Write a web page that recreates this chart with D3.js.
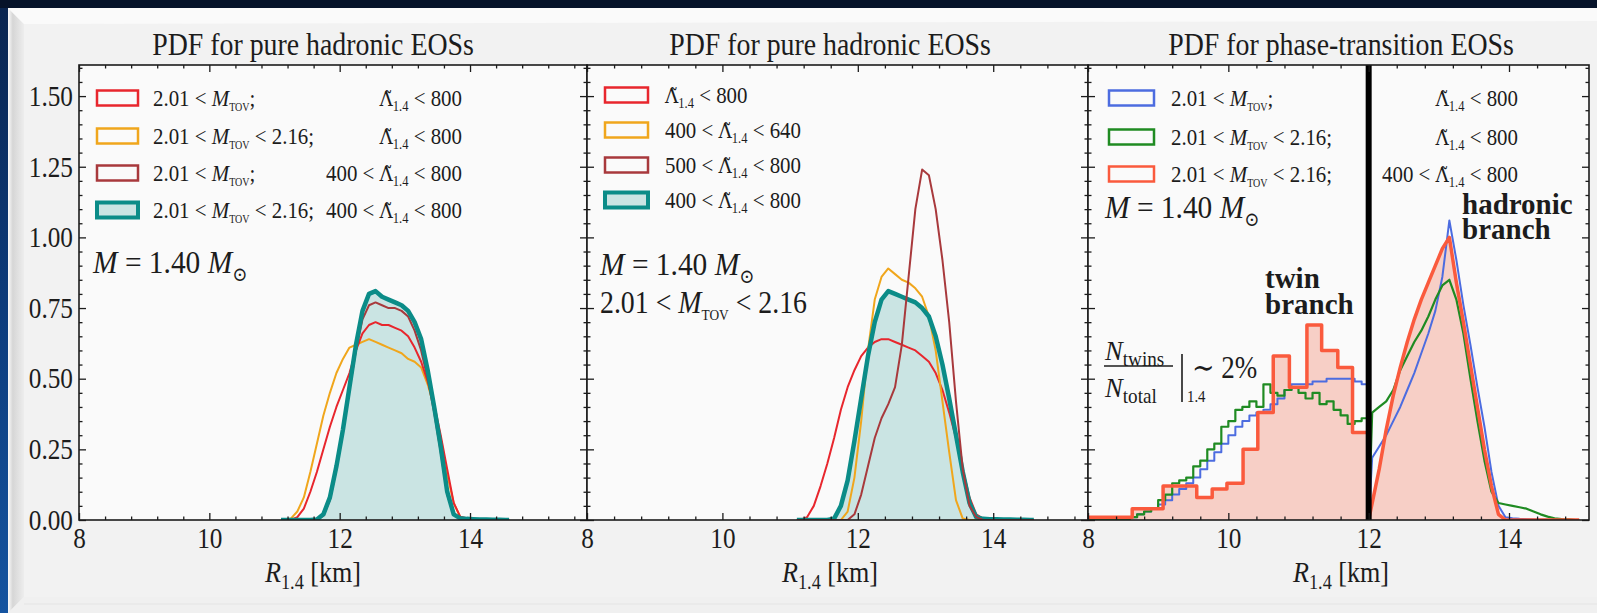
<!DOCTYPE html>
<html>
<head>
<meta charset="utf-8">
<script src="https://cdn.jsdelivr.net/npm/d3@7"></script>
<style>
  html, body { margin: 0; padding: 0; background: #07152d; overflow: hidden; }
  svg { display: block; }
</style>
</head>
<body>
<svg id="chart" width="1597" height="613"></svg>
<script>
// ---------------------------------------------------------------
// Probability densities of R_1.4 [km] (histograms, left bin edges)
// ---------------------------------------------------------------

// Panels 1 and 2: common fine binning (0.1 km)
const radiusBins = [11.1, 11.2, 11.3, 11.4, 11.5, 11.6, 11.7, 11.8, 11.9, 12.0,
                    12.1, 12.2, 12.3, 12.4, 12.5, 12.6, 12.7, 12.8, 12.9, 13.0,
                    13.1, 13.2, 13.3, 13.4, 13.5, 13.6, 13.7, 13.8, 13.9, 14.0,
                    14.1, 14.2, 14.3, 14.4, 14.5];

// Panel 1 – pure hadronic EOSs, different M_TOV / Lambda cuts
const p1Red     = [0, 0, 0.01, 0.04, 0.10, 0.17, 0.25, 0.33, 0.40, 0.46,
                   0.52, 0.60, 0.66, 0.69, 0.70, 0.69, 0.69, 0.68, 0.67, 0.65,
                   0.61, 0.56, 0.49, 0.41, 0.30, 0.18, 0.06, 0.012, 0.006, 0.004,
                   0.003, 0.002, 0.002, 0.001, 0.001];
const p1Orange  = [0, 0.005, 0.03, 0.08, 0.17, 0.27, 0.37, 0.45, 0.52, 0.57,
                   0.61, 0.62, 0.63, 0.64, 0.63, 0.62, 0.61, 0.60, 0.59, 0.57,
                   0.56, 0.54, 0.48, 0.40, 0.29, 0.16, 0.06, 0.01, 0.004, 0.002,
                   0, 0, 0, 0, 0];
const p1DarkRed = [0, 0, 0, 0, 0, 0.001, 0.015, 0.07, 0.18, 0.31,
                   0.46, 0.60, 0.71, 0.76, 0.77, 0.76, 0.75, 0.75, 0.74, 0.72,
                   0.67, 0.60, 0.50, 0.38, 0.24, 0.09, 0.02, 0.006, 0.004, 0.003,
                   0.002, 0.002, 0.001, 0.001, 0.001];
const p1Teal    = [0, 0, 0, 0, 0, 0.002, 0.02, 0.08, 0.19, 0.32,
                   0.47, 0.62, 0.74, 0.80, 0.81, 0.79, 0.78, 0.77, 0.76, 0.74,
                   0.70, 0.64, 0.53, 0.40, 0.26, 0.10, 0.02, 0.006, 0.004, 0.003,
                   0.002, 0.002, 0.001, 0.001, 0];

// Panel 2 – pure hadronic EOSs with 2.01 < M_TOV < 2.16, different Lambda windows
const p2Red     = [0, 0.01, 0.05, 0.12, 0.20, 0.29, 0.39, 0.47, 0.53, 0.58,
                   0.61, 0.63, 0.64, 0.64, 0.63, 0.62, 0.61, 0.60, 0.58, 0.56,
                   0.52, 0.46, 0.38, 0.29, 0.18, 0.08, 0.02, 0.005, 0.003, 0.002,
                   0.001, 0.001, 0, 0, 0];
const p2Orange  = [0, 0, 0, 0, 0, 0, 0, 0.03, 0.15, 0.35,
                   0.60, 0.78, 0.86, 0.89, 0.87, 0.85, 0.84, 0.82, 0.79, 0.72,
                   0.60, 0.42, 0.24, 0.07, 0.005, 0, 0, 0, 0, 0,
                   0, 0, 0, 0, 0];
const p2DarkRed = [0, 0, 0, 0, 0, 0, 0, 0, 0.02, 0.09,
                   0.19, 0.29, 0.36, 0.41, 0.47, 0.62, 0.86, 1.10, 1.24, 1.22,
                   1.10, 0.92, 0.70, 0.42, 0.18, 0.05, 0.01, 0, 0, 0,
                   0, 0, 0, 0, 0];
const p2Teal    = [0, 0, 0, 0, 0, 0.005, 0.05, 0.14, 0.28, 0.43,
                   0.58, 0.70, 0.78, 0.81, 0.80, 0.79, 0.78, 0.77, 0.75, 0.72,
                   0.65, 0.55, 0.43, 0.30, 0.17, 0.06, 0.01, 0.004, 0.003, 0.003,
                   0.002, 0.002, 0.001, 0.001, 0];

// Panel 3 – phase-transition EOSs: twin branch (R < 12 km) and hadronic branch (R > 12 km)
const transitionRadius = 12;
const twinBins = [8.0, 8.1, 8.2, 8.3, 8.4, 8.5, 8.6, 8.7, 8.8, 8.9,
                  9.0, 9.1, 9.2, 9.3, 9.4, 9.5, 9.6, 9.7, 9.8, 9.9,
                  10.0, 10.1, 10.2, 10.3, 10.4, 10.5, 10.6, 10.7, 10.8, 10.9,
                  11.0, 11.1, 11.2, 11.3, 11.4, 11.5, 11.6, 11.7, 11.8, 11.9];
const hadronicBins = [12.0, 12.1, 12.2, 12.3, 12.4, 12.5, 12.6, 12.7, 12.8, 12.9,
                      13.0, 13.1, 13.2, 13.3, 13.4, 13.5, 13.6, 13.7, 13.8, 13.9,
                      14.0, 14.1, 14.2, 14.3, 14.4, 14.5, 14.6, 14.7, 14.8, 14.9];

const p3BlueTwin  = [0, 0, 0, 0, 0.002, 0.005, 0.01, 0.02, 0.03, 0.04,
                     0.055, 0.07, 0.09, 0.11, 0.13, 0.15, 0.18, 0.21, 0.24, 0.27,
                     0.30, 0.33, 0.35, 0.37, 0.38, 0.39, 0.41, 0.43, 0.46, 0.48,
                     0.48, 0.48, 0.49, 0.49, 0.50, 0.50, 0.50, 0.50, 0.49, 0.48];
const p3BlueHad   = [0.22, 0.26, 0.30, 0.35, 0.40, 0.46, 0.52, 0.59, 0.66, 0.74,
                     0.86, 1.06, 0.92, 0.76, 0.62, 0.47, 0.33, 0.17, 0.05, 0.01,
                     0.006, 0.004, 0.003, 0.002, 0.001, 0.001, 0, 0, 0, 0];
const p3GreenTwin = [0, 0, 0, 0, 0, 0.004, 0.01, 0.02, 0.03, 0.04,
                     0.07, 0.09, 0.13, 0.14, 0.15, 0.19, 0.21, 0.25, 0.27, 0.33,
                     0.35, 0.39, 0.40, 0.42, 0.40, 0.48, 0.45, 0.44, 0.46, 0.47,
                     0.45, 0.43, 0.45, 0.41, 0.42, 0.39, 0.37, 0.34, 0.35, 0.36];
const p3GreenHad  = [0.38, 0.40, 0.42, 0.46, 0.53, 0.58, 0.63, 0.67, 0.72, 0.78,
                     0.83, 0.85, 0.78, 0.66, 0.50, 0.35, 0.21, 0.10, 0.06, 0.055,
                     0.05, 0.045, 0.04, 0.03, 0.02, 0.012, 0.006, 0.003, 0.002, 0];
const p3SalmonTwinEdges = [8.0, 8.63, 9.07, 9.55, 9.77, 9.98, 10.21, 10.42, 10.64,
                           10.87, 11.12, 11.33, 11.56, 11.77, 12.0];
const p3SalmonTwin = [0.01, 0.04, 0.12, 0.08, 0.11, 0.13, 0.25, 0.38, 0.58,
                      0.47, 0.69, 0.60, 0.54, 0.31];
const p3SalmonHad = [0.06, 0.18, 0.32, 0.44, 0.54, 0.63, 0.71, 0.78, 0.84, 0.90,
                     0.96, 1.00, 0.84, 0.70, 0.55, 0.40, 0.25, 0.12, 0.02, 0,
                     0, 0, 0, 0, 0, 0, 0, 0, 0, 0];

// Axis ticks
const xTickValues = [8, 10, 12, 14];
const yTickValues = [0, 0.25, 0.5, 0.75, 1.0, 1.25, 1.5];

// Legend entries: M_TOV upper bound and Lambda window for each curve
const p1Legend = [
  { mMax: null, lMin: null, lMax: 800 },
  { mMax: 2.16, lMin: null, lMax: 800 },
  { mMax: null, lMin: 400,  lMax: 800 },
  { mMax: 2.16, lMin: 400,  lMax: 800 }
];
const p2Legend = [
  { lMin: null, lMax: 800 },
  { lMin: 400,  lMax: 640 },
  { lMin: 500,  lMax: 800 },
  { lMin: 400,  lMax: 800 }
];
const p3Legend = [
  { mMax: null, lMin: null, lMax: 800 },
  { mMax: 2.16, lMin: null, lMax: 800 },
  { mMax: 2.16, lMin: 400,  lMax: 800 }
];

const titles = ["PDF for pure hadronic EOSs", "PDF for pure hadronic EOSs",
                "PDF for phase-transition EOSs"];

// ---------------------------------------------------------------
// Styling and layout
// ---------------------------------------------------------------
const W = 1597, H = 613;
const SERIF = "'Liberation Serif', 'DejaVu Serif', serif";
const INK = "#1c1c1c";
const C = {
  red: "#e8262d", orange: "#f0a61c", darkRed: "#a8393c", teal: "#0b8c88",
  tealFill: "#0b8c88", blue: "#4c6ce0", green: "#1f8b22", salmon: "#fa5a3d",
  salmonFill: "#f7cfc6"
};
const plotTop = 65, plotBottom = 520;
const layout = [
  { left: 79,   right: 587,  xMax: 15.795, cx: 313 },
  { left: 587,  right: 1088, xMax: 15.40,  cx: 830 },
  { left: 1088, right: 1589, xMax: 15.14,  cx: 1341 }
];

const y = d3.scaleLinear().domain([0, 1.61]).range([plotBottom, plotTop]);

const svg = d3.select("#chart");
const defs = svg.append("defs");

// ---------- slide background and card ----------
svg.append("rect").attr("width", W).attr("height", H).attr("fill", "#06132a");
const sideGrad = defs.append("linearGradient").attr("id", "side").attr("x1", 0).attr("y1", 0).attr("x2", 0).attr("y2", 1);
sideGrad.append("stop").attr("offset", 0).attr("stop-color", "#0a2550");
sideGrad.append("stop").attr("offset", 0.5).attr("stop-color", "#0d3c7c");
sideGrad.append("stop").attr("offset", 1).attr("stop-color", "#1554a0");
svg.append("rect").attr("x", 0).attr("y", 8).attr("width", 8).attr("height", H - 8).attr("fill", "url(#side)");

svg.append("rect").attr("x", 8).attr("y", 8).attr("width", W - 8).attr("height", H - 8).attr("fill", "#f2f2f2");
const bevL = defs.append("linearGradient").attr("id", "bevL").attr("x1", 0).attr("x2", 1).attr("y1", 0).attr("y2", 0);
bevL.append("stop").attr("offset", 0).attr("stop-color", "#fbfbfb");
bevL.append("stop").attr("offset", 0.3).attr("stop-color", "#d6d6d6");
bevL.append("stop").attr("offset", 1).attr("stop-color", "#ededed");
svg.append("polygon").attr("points", "8,8 24,24 24,597 8,613").attr("fill", "url(#bevL)");
svg.append("polygon").attr("points", `8,8 ${W},8 ${W},21 24,24`).attr("fill", "#fafafa");
svg.append("polygon").attr("points", `8,613 24,597 ${W},597 ${W},613`).attr("fill", "#f0f0f0");
svg.append("line").attr("x1", 24).attr("x2", W).attr("y1", 604).attr("y2", 604).attr("stroke", "#e4e4e4");

// ---------- rich text helper (serif, italics, subscripts) ----------
// parts: { t, it (italic), sc (relative size), dy (baseline offset in em), ff (font family) }
function richText(parent, x, yPos, lines, o = {}) {
  const size = o.size || 24;
  const sx = o.sx == null ? 0.87 : o.sx;
  const lead = o.lead || size;
  const t = parent.append("text")
    .attr("transform", `translate(${x},${yPos}) scale(${sx},1)`)
    .attr("font-family", SERIF)
    .attr("font-size", size)
    .attr("font-weight", o.weight || 400)
    .attr("text-anchor", o.anchor || "start")
    .attr("fill", o.fill || INK);
  const multi = Array.isArray(lines[0]);
  (multi ? lines : [lines]).forEach((parts, li) => {
    let shift = 0;
    parts.forEach((p, pi) => {
      const ts = t.append("tspan").text(p.t);
      let dy = (p.dy || 0) * size - shift;
      shift = (p.dy || 0) * size;
      if (multi && pi === 0) { ts.attr("x", 0); if (li > 0) dy += lead; }
      if (dy !== 0) ts.attr("dy", dy);
      if (p.it) ts.attr("font-style", "italic");
      if (p.sc) ts.attr("font-size", size * p.sc);
      if (p.ff) ts.attr("font-family", p.ff);
    });
  });
  return t;
}
// Lambda with combining tilde (font with mark positioning), then subscript 1.4
const lamParts = (lMin, lMax) => [
  ...(lMin != null ? [{ t: `${lMin} < ` }] : []),
  { t: "\u039B\u0303", ff: "'DejaVu Serif'", sc: 0.88 },
  { t: "1.4", sc: 0.6, dy: 0.2 }, { t: ` < ${lMax}` }
];
const mParts = (mMax, sep) => [
  { t: "2.01 < " }, { t: "M", it: true }, { t: "TOV", sc: 0.48, dy: 0.22 },
  { t: mMax != null ? ` < ${mMax}${sep}` : `${sep}` }
];
const massParts = () => [
  { t: "M", it: true }, { t: " = 1.40 " }, { t: "M", it: true }, { t: "\u2299", sc: 0.62, dy: 0.25 }
];

// ---------- histogram outlines ----------
function edgesOf(bins) {
  return [...bins, +(bins[bins.length - 1] + (bins[1] - bins[0])).toFixed(3)];
}
// outline as bin steps
function stepPoints(edges, values) {
  const pts = [[edges[0], 0]];
  values.forEach((v, i) => { pts.push([edges[i], v]); pts.push([edges[i + 1], v]); });
  pts.push([edges[values.length], 0]);
  return pts;
}
// outline through bin centres (fine-binned densities)
function centerPoints(edges, values) {
  const pts = [[edges[0], 0]];
  values.forEach((v, i) => pts.push([(edges[i] + edges[i + 1]) / 2, v]));
  pts.push([edges[values.length], 0]);
  return pts;
}

// ---------- panels ----------
const panels = layout.map((L, i) => {
  const x = d3.scaleLinear().domain([8, L.xMax]).range([L.left, L.right]);
  const g = svg.append("g");
  g.append("rect").attr("x", L.left).attr("y", plotTop).attr("width", L.right - L.left)
    .attr("height", plotBottom - plotTop).attr("fill", "#fafafa");
  defs.append("clipPath").attr("id", `clip${i}`).append("rect")
    .attr("x", L.left).attr("y", plotTop).attr("width", L.right - L.left).attr("height", plotBottom - plotTop);
  const plot = g.append("g").attr("clip-path", `url(#clip${i})`);
  return { x, g, plot, L };
});

function drawHist(P, pts, color, width, fill, fillOpacity) {
  if (fill) {
    P.plot.append("path").datum(pts)
      .attr("d", d3.area().x(d => P.x(d[0])).y0(y(0)).y1(d => y(d[1])))
      .attr("fill", fill).attr("fill-opacity", fillOpacity == null ? 1 : fillOpacity);
  }
  if (color) {
    P.plot.append("path").datum(pts)
      .attr("d", d3.line().x(d => P.x(d[0])).y(d => y(d[1])))
      .attr("fill", "none").attr("stroke", color).attr("stroke-width", width)
      .attr("stroke-linejoin", "round");
  }
}

const rEdges = edgesOf(radiusBins);
const P1 = panels[0], P2 = panels[1], P3 = panels[2];
const fine = v => centerPoints(rEdges, v);

// Panel 1
drawHist(P1, fine(p1Teal), null, 0, C.tealFill, 0.2);
drawHist(P1, fine(p1Orange), C.orange, 2);
drawHist(P1, fine(p1Red), C.red, 2);
drawHist(P1, fine(p1DarkRed), C.darkRed, 2);
drawHist(P1, fine(p1Teal), C.teal, 4.5);

// Panel 2
drawHist(P2, fine(p2Teal), null, 0, C.tealFill, 0.2);
drawHist(P2, fine(p2Red), C.red, 2);
drawHist(P2, fine(p2Orange), C.orange, 2);
drawHist(P2, fine(p2Teal), C.teal, 4.5);
drawHist(P2, fine(p2DarkRed), C.darkRed, 2);

// Panel 3
const tEdges = edgesOf(twinBins), hEdges = edgesOf(hadronicBins);
drawHist(P3, stepPoints(p3SalmonTwinEdges, p3SalmonTwin), null, 0, C.salmonFill);
drawHist(P3, centerPoints(hEdges, p3SalmonHad), null, 0, C.salmonFill);
drawHist(P3, stepPoints(tEdges, p3BlueTwin), C.blue, 2);
drawHist(P3, centerPoints(hEdges, p3BlueHad), C.blue, 2);
drawHist(P3, stepPoints(tEdges, p3GreenTwin), C.green, 2.2);
drawHist(P3, centerPoints(hEdges, p3GreenHad), C.green, 2.2);
drawHist(P3, stepPoints(p3SalmonTwinEdges, p3SalmonTwin), C.salmon, 3.5);
drawHist(P3, centerPoints(hEdges, p3SalmonHad), C.salmon, 3.5);
P3.plot.append("line")
  .attr("x1", P3.x(transitionRadius)).attr("x2", P3.x(transitionRadius))
  .attr("y1", plotTop).attr("y2", plotBottom)
  .attr("stroke", "#000").attr("stroke-width", 6);

// ---------- axes: inward major/minor ticks on all sides ----------
panels.forEach((P, i) => {
  const { x, g, L } = P;
  const xMinor = d3.range(8, L.xMax, 0.4).filter(v => Math.abs(v / 2 - Math.round(v / 2)) > 1e-6);
  const yMinor = d3.range(0, 1.61, 0.05).filter(v => Math.abs(v / 0.25 - Math.round(v / 0.25)) > 1e-6);
  const tickStyle = sel => { sel.select(".domain").remove(); sel.selectAll("line").attr("stroke", INK).attr("stroke-width", 1.3); };

  g.append("g").attr("transform", `translate(0,${plotBottom})`)
    .call(d3.axisBottom(x).tickValues(xTickValues).tickSize(-7).tickPadding(7.5).tickFormat(d3.format("d")))
    .call(tickStyle)
    .call(s => s.selectAll("text").attr("font-family", SERIF).attr("font-size", 29).attr("fill", INK)
      .attr("transform", "scale(0.87,1)"));
  g.append("g").attr("transform", `translate(0,${plotBottom})`)
    .call(d3.axisBottom(x).tickValues(xMinor).tickSize(-3.5).tickFormat("")).call(tickStyle);
  g.append("g").attr("transform", `translate(0,${plotTop})`)
    .call(d3.axisTop(x).tickValues(xTickValues).tickSize(-7).tickFormat("")).call(tickStyle);
  g.append("g").attr("transform", `translate(0,${plotTop})`)
    .call(d3.axisTop(x).tickValues(xMinor).tickSize(-3.5).tickFormat("")).call(tickStyle);

  const yl = g.append("g").attr("transform", `translate(${L.left},0)`)
    .call(d3.axisLeft(y).tickValues(yTickValues).tickSize(-7).tickPadding(7).tickFormat(d3.format(".2f")))
    .call(tickStyle);
  if (i === 0) {
    yl.selectAll("text").attr("font-family", SERIF).attr("font-size", 29).attr("fill", INK)
      .attr("x", -7).attr("transform", "scale(0.87,1)");
  } else {
    yl.selectAll("text").remove();
  }
  g.append("g").attr("transform", `translate(${L.left},0)`)
    .call(d3.axisLeft(y).tickValues(yMinor).tickSize(-3.5).tickFormat("")).call(tickStyle);
  g.append("g").attr("transform", `translate(${L.right},0)`)
    .call(d3.axisRight(y).tickValues(yTickValues).tickSize(-7).tickFormat("")).call(tickStyle);
  g.append("g").attr("transform", `translate(${L.right},0)`)
    .call(d3.axisRight(y).tickValues(yMinor).tickSize(-3.5).tickFormat("")).call(tickStyle);

  g.append("rect").attr("x", L.left).attr("y", plotTop).attr("width", L.right - L.left)
    .attr("height", plotBottom - plotTop).attr("fill", "none").attr("stroke", INK).attr("stroke-width", 1.6);

  // title and axis label
  richText(g, L.cx, 55, [{ t: titles[i] }], { size: 32, anchor: "middle" });
  richText(g, L.cx, 582, [{ t: "R", it: true }, { t: "1.4", sc: 0.7, dy: 0.22 }, { t: " [km]", dy: 0 }],
    { size: 30, anchor: "middle" });
});

// ---------- legends ----------
function legendPatch(g, xp, yc, w, color, sw, fill, fillOpacity) {
  g.append("rect").attr("x", xp).attr("y", yc - 7.5).attr("width", w).attr("height", 15)
    .attr("fill", fill || "#fafafa").attr("fill-opacity", fill ? fillOpacity : 1)
    .attr("stroke", color).attr("stroke-width", sw);
}

// Panel 1 legend
const p1Colors = [C.red, C.orange, C.darkRed, C.teal];
const p1Rows = [98, 136, 173, 210];
p1Legend.forEach((e, k) => {
  const last = k === 3;
  legendPatch(P1.g, 97, p1Rows[k], 41, p1Colors[k], last ? 4 : 2.5, last ? C.tealFill : null, 0.2);
  richText(P1.g, 153, p1Rows[k] + 8, mParts(e.mMax, ";"), { size: 24 });
  richText(P1.g, 462, p1Rows[k] + 8, lamParts(e.lMin, e.lMax), { size: 24, anchor: "end" });
});
richText(P1.g, 93, 273, massParts(), { size: 32, sx: 0.92 });

// Panel 2 legend
const p2Colors = [C.red, C.orange, C.darkRed, C.teal];
const p2Rows = [95, 130, 165, 200];
p2Legend.forEach((e, k) => {
  const last = k === 3;
  legendPatch(P2.g, 605, p2Rows[k], 43, p2Colors[k], last ? 4 : 2.5, last ? C.tealFill : null, 0.2);
  richText(P2.g, 665, p2Rows[k] + 8, lamParts(e.lMin, e.lMax), { size: 24 });
});
richText(P2.g, 600, 275, massParts(), { size: 32, sx: 0.92 });
richText(P2.g, 600, 313, mParts(2.16, ""), { size: 32 });

// Panel 3 legend
const p3Colors = [C.blue, C.green, C.salmon];
const p3Rows = [98, 137, 174];
p3Legend.forEach((e, k) => {
  legendPatch(P3.g, 1109, p3Rows[k], 45, p3Colors[k], 2.5, null);
  richText(P3.g, 1171, p3Rows[k] + 8, mParts(e.mMax, ";"), { size: 24 });
  richText(P3.g, 1518, p3Rows[k] + 8, lamParts(e.lMin, e.lMax), { size: 24, anchor: "end" });
});
richText(P3.g, 1105, 218, massParts(), { size: 32, sx: 0.92 });

// Branch annotations
richText(P3.g, 1462, 214, [[{ t: "hadronic" }], [{ t: "branch" }]], { size: 29, weight: 700, sx: 1, lead: 25 });
richText(P3.g, 1265, 288, [[{ t: "twin" }], [{ t: "branch" }]], { size: 29, weight: 700, sx: 1, lead: 26 });

// Twin fraction: N_twins / N_total |_1.4 ~ 2%
richText(P3.g, 1105, 360, [{ t: "N", it: true }, { t: "twins", sc: 0.72, dy: 0.2 }], { size: 28, sx: 0.95 });
P3.g.append("line").attr("x1", 1104).attr("x2", 1173).attr("y1", 366).attr("y2", 366).attr("stroke", INK).attr("stroke-width", 1.6);
richText(P3.g, 1105, 397, [{ t: "N", it: true }, { t: "total", sc: 0.72, dy: 0.2 }], { size: 28, sx: 0.95 });
P3.g.append("line").attr("x1", 1182).attr("x2", 1182).attr("y1", 354).attr("y2", 402).attr("stroke", INK).attr("stroke-width", 1.6);
richText(P3.g, 1187, 402, [{ t: "1.4" }], { size: 17 });
richText(P3.g, 1192, 378, [{ t: "\u223C 2%" }], { size: 31 });
</script>
</body>
</html>
